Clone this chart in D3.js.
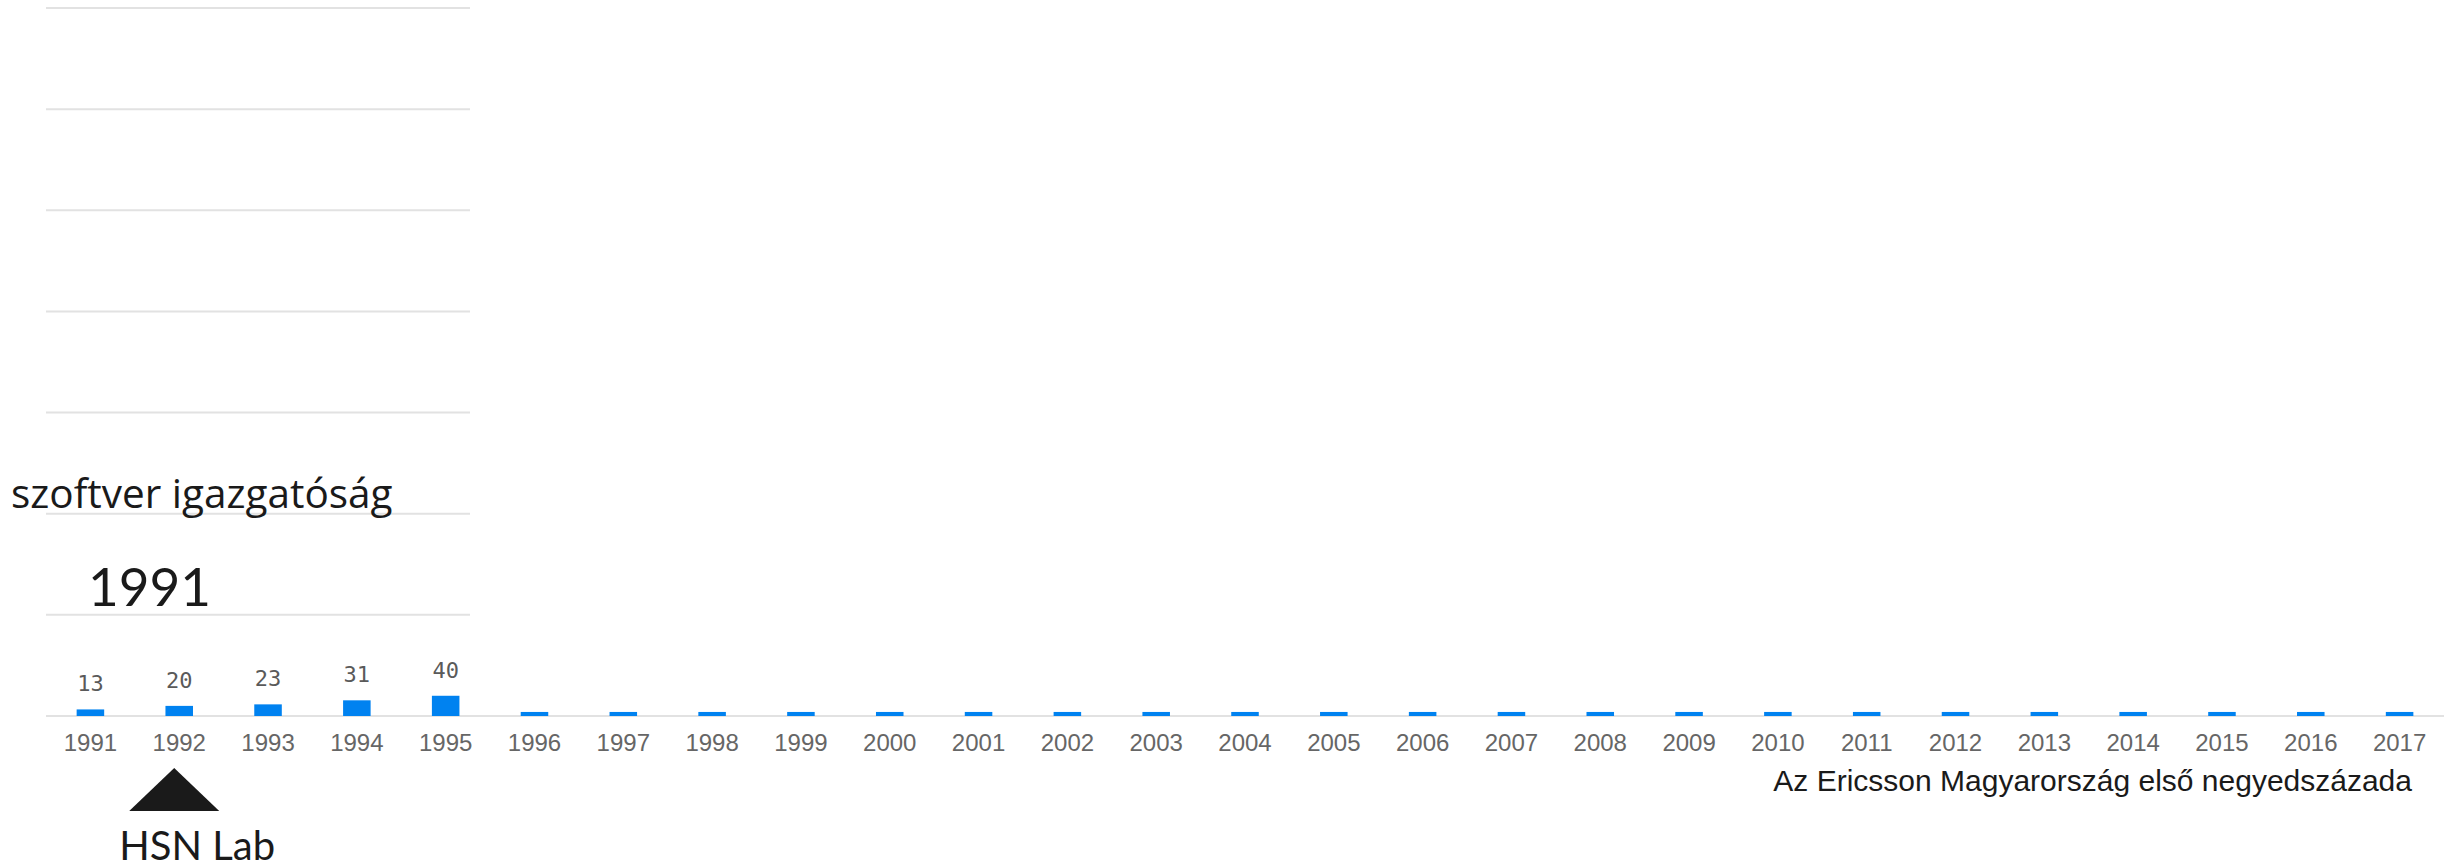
<html lang="hu">
  <head>
    <meta charset="utf-8">
    <title>Az Ericsson Magyarország első negyedszázada</title>
    <script src="https://d3js.org/d3.v7.min.js"></script>
    <style>
      body { margin: 0; background: #fff; }
      svg { display: block; }
    </style>
  </head>
  <body>
<div id="my_dataviz"></div>

<script>

// years on the x axis
var years = ["1991", "1992", "1993", "1994", "1995", "1996", "1997", "1998", "1999",
             "2000", "2001", "2002", "2003", "2004", "2005", "2006", "2007", "2008",
             "2009", "2010", "2011", "2012", "2013", "2014", "2015", "2016", "2017"];

// headcount of the software directorate (later years only show a stub so far)
var values = [13, 20, 23, 31, 40, 8, 8, 8, 8,
              8, 8, 8, 8, 8, 8, 8, 8, 8,
              8, 8, 8, 8, 8, 8, 8, 8, 8];

// numbers printed above the bars
var valueLabels = ["13", "20", "23", "31", "40"];

// y gridline ticks
var yTicks = [0, 200, 400, 600, 800, 1000, 1200, 1400];

// milestones under the axis
var events = [{year: "1992", label: "HSN Lab"}];

var seriesName = "szoftver igazgatóság";
var currentYear = "1991";
var caption = "Az Ericsson Magyarország első negyedszázada";

var width = 2455,
    height = 868;

var svg = d3.select("#my_dataviz")
  .append("svg")
    .attr("width", width)
    .attr("height", height);

// scales
var x = d3.scaleBand()
  .domain(years)
  .range([46, 2444])
  .paddingInner(0.69)
  .paddingOuter(0.345);

var y = d3.scaleLinear()
  .domain([0, 1400])
  .range([716, 8]);

// gridlines (only the baseline goes all the way across)
svg.append("g")
  .selectAll("line")
  .data(yTicks)
  .enter()
  .append("line")
    .attr("x1", 46)
    .attr("x2", function(d) { return d === 0 ? 2444 : 470; })
    .attr("y1", function(d) { return y(d); })
    .attr("y2", function(d) { return y(d); })
    .attr("stroke", "#e2e2e2")
    .attr("stroke-width", 2);

// bars
svg.append("g")
  .selectAll("rect")
  .data(years)
  .enter()
  .append("rect")
    .attr("x", function(d) { return x(d); })
    .attr("y", function(d, i) { return y(values[i]); })
    .attr("width", x.bandwidth())
    .attr("height", function(d, i) { return y(0) - y(values[i]); })
    .attr("fill", "#0082f0");

// value labels
svg.append("g")
  .selectAll("text")
  .data(valueLabels)
  .enter()
  .append("text")
    .attr("x", function(d, i) { return x(years[i]) + x.bandwidth() / 2; })
    .attr("y", function(d, i) { return y(values[i]) - 18; })
    .attr("text-anchor", "middle")
    .style("font-family", "'DejaVu Sans Mono', monospace")
    .style("font-size", "22px")
    .style("fill", "#5a5a5a")
    .text(function(d) { return d; });

// X axis
var xAxis = svg.append("g")
  .attr("transform", "translate(0," + y(0) + ")")
  .call(d3.axisBottom(x).tickSize(0).tickPadding(18));
xAxis.select(".domain").remove();
xAxis.selectAll("text")
  .style("font-family", "'Liberation Sans', Arial, sans-serif")
  .style("font-size", "24px")
  .style("fill", "#666");

// caption bottom right
svg.append("text")
  .attr("x", 2412)
  .attr("y", 791)
  .attr("text-anchor", "end")
  .style("font-family", "'Liberation Sans', Arial, sans-serif")
  .style("font-size", "30px")
  .style("fill", "#1a1a1a")
  .text(caption);

// series name and year
svg.append("text")
  .attr("x", 11)
  .attr("y", 508)
  .style("font-family", "'Open Sans', sans-serif")
  .style("font-size", "40.5px")
  .style("fill", "#1a1a1a")
  .text(seriesName);

svg.append("text")
  .attr("x", 88)
  .attr("y", 606)
  .style("font-family", "Lato, sans-serif")
  .style("font-size", "53px")
  .style("fill", "#1a1a1a")
  .text(currentYear);

// milestone markers
var ev = svg.append("g")
  .selectAll("g")
  .data(events)
  .enter()
  .append("g")
    .attr("transform", function(d) {
      return "translate(" + (x(d.year) + x.bandwidth() / 2 - 5) + ",0)";
    });

ev.append("path")
  .attr("d", "M-45,811L0,768L45,811Z")
  .attr("fill", "#1a1a1a");

ev.append("text")
  .attr("x", -55)
  .attr("y", 860)
  .style("font-family", "Lato, sans-serif")
  .style("font-size", "40px")
  .style("fill", "#1a1a1a")
  .text(function(d) { return d.label; });

</script>
</body>
</html>
